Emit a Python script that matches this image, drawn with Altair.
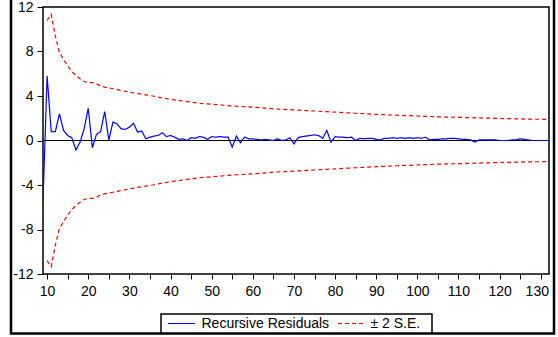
import altair as alt
import pandas as pd

obs = list(range(9, 133))
resid = [
    -5.5, 5.8, 0.8, 0.8, 2.4, 0.9, 0.45, 0.25, -0.85, -0.15,   # 9-18
    1.05, 2.9, -0.65, 0.55, 0.8, 2.6, 0.05, 1.65, 1.5, 1.05,    # 19-28
    1.0, 1.2, 1.55, 0.75, 0.85, 0.15, 0.3, 0.4, 0.45, 0.7,      # 29-38
    0.35, 0.45, 0.3, 0.1, 0.15, 0.0, 0.25, 0.2, 0.35, 0.3,      # 39-48
    0.1, 0.35, 0.3, 0.35, 0.3, 0.3, -0.6, 0.4, -0.2, 0.3,       # 49-58
    0.15, 0.15, 0.1, 0.05, 0.1, 0.05, 0.0, 0.15, 0.0, 0.05,     # 59-68
    0.25, -0.3, 0.25, 0.35, 0.4, 0.45, 0.5, 0.45, 0.2, 0.9,     # 69-78
    -0.15, 0.35, 0.3, 0.3, 0.25, 0.3, 0.0, 0.2, 0.15, 0.2,      # 79-88
    0.2, 0.1, 0.05, 0.2, 0.2, 0.25, 0.2, 0.25, 0.2, 0.25,       # 89-98
    0.2, 0.25, 0.2, 0.3, 0.05, 0.1, 0.1, 0.15, 0.15, 0.2,       # 99-108
    0.2, 0.15, 0.1, 0.1, 0.05, -0.15, 0.05, 0.05, 0.05, 0.05,   # 109-118
    0.05, 0.0, 0.0, 0.0, 0.05, 0.05, 0.15, 0.1, 0.05, 0.0,      # 119-128
    0.0, 0.0, 0.0, 0.0,                                          # 129-132
]

# Two standard error band (upper; lower is its negative)
band_obs = list(range(10, 133))
band = [
    10.8, 11.35, 9.4, 7.9, 7.3, 6.7, 6.2, 5.85, 5.55, 5.3,      # 10-19
    5.2, 5.2, 5.1, 4.9, 4.8, 4.72, 4.65, 4.58, 4.5, 4.43,       # 20-29
    4.36, 4.28, 4.22, 4.16, 4.1, 4.04, 3.98, 3.9, 3.83, 3.77,   # 30-39
    3.7, 3.65, 3.6, 3.55, 3.5, 3.45, 3.4, 3.35, 3.32, 3.29,     # 40-49
    3.26, 3.23, 3.2, 3.17, 3.14, 3.11, 3.08, 3.06, 3.04, 3.02,  # 50-59
    3.0, 2.97, 2.94, 2.91, 2.88, 2.85, 2.83, 2.81, 2.79, 2.77,  # 60-69
    2.75, 2.73, 2.71, 2.69, 2.67, 2.65, 2.63, 2.61, 2.59, 2.57, # 70-79
    2.55, 2.53, 2.51, 2.49, 2.47, 2.45, 2.43, 2.41, 2.39, 2.37, # 80-89
    2.35, 2.33, 2.32, 2.3, 2.29, 2.27, 2.26, 2.24, 2.23, 2.21,  # 90-99
    2.2, 2.18, 2.17, 2.16, 2.14, 2.13, 2.12, 2.11, 2.1, 2.09,   # 100-109
    2.08, 2.07, 2.06, 2.05, 2.04, 2.03, 2.02, 2.01, 2.0, 1.99,  # 110-119
    1.98, 1.97, 1.96, 1.96, 1.95, 1.94, 1.93, 1.93, 1.92, 1.91, # 120-129
    1.91, 1.9, 1.9,                                              # 130-132
]

series_names = ["Recursive Residuals", "± 2 S.E."]
series_colors = ["#0000FF", "#FF0000"]
series_dash = [[1, 0], [4, 3]]
x_ticks = list(range(10, 131, 5))
y_ticks = [-12, -8, -4, 0, 4, 8, 12]

rows = []
for x, v in zip(obs, resid):
    rows.append({"obs": x, "value": v, "series": series_names[0], "part": "res"})
for x, b in zip(band_obs, band):
    rows.append({"obs": x, "value": b, "series": series_names[1], "part": "upper"})
for x, b in zip(band_obs, band):
    rows.append({"obs": x, "value": -b, "series": series_names[1], "part": "lower"})
df = pd.DataFrame(rows)

FONT = "Liberation Sans"

x_scale = alt.Scale(domain=[9, 132], nice=False, zero=False)
y_scale = alt.Scale(domain=[-12, 12], nice=False, zero=False)

lines = alt.Chart(df).mark_line(strokeWidth=1.2, clip=True).encode(
    x=alt.X("obs:Q", scale=x_scale, axis=alt.Axis(
        values=x_ticks, title=None, grid=False, domain=False,
        labelExpr="datum.value % 10 == 0 ? '' + datum.value : ''",
        labelOverlap=False, tickSize=5, tickColor="black",
        labelPadding=5, labelFontSize=14, labelFont=FONT, labelColor="black",
        labelOffset={"condition": {"test": "datum.value == 130", "value": -4}, "value": 0},
    )),
    y=alt.Y("value:Q", scale=y_scale, axis=alt.Axis(
        values=y_ticks, title=None, grid=False, domain=False,
        labelExpr="'' + datum.value",
        tickSize=6, tickColor="black", labelPadding=4,
        labelFontSize=14, labelFont=FONT, labelColor="black",
    )),
    color=alt.Color("series:N", scale=alt.Scale(domain=series_names, range=series_colors), legend=None),
    strokeDash=alt.StrokeDash("series:N", scale=alt.Scale(domain=series_names, range=series_dash), legend=None),
    detail="part:N",
    order="obs:Q",
)

zero = alt.Chart(pd.DataFrame({"z": [0]})).mark_rule(color="black", strokeWidth=1).encode(
    y=alt.Y("z:Q", scale=y_scale)
)

one = pd.DataFrame({"k": [0]})

# Outer frame of the graphic
frame = alt.Chart(one).mark_rect(
    filled=False, stroke="black", strokeWidth=2.5, clip=False
).encode(
    x=alt.value(-32), x2=alt.value(511), y=alt.value(-9), y2=alt.value(326.5)
)

# Legend box at the bottom
leg_box = alt.Chart(one).mark_rect(
    fill="white", stroke="black", strokeWidth=1.5, clip=False
).encode(
    x=alt.value(118), x2=alt.value(389), y=alt.value(307), y2=alt.value(326)
)
leg_sym1 = alt.Chart(one).mark_rule(
    color=series_colors[0], strokeWidth=1.2, strokeDash=series_dash[0], clip=False
).encode(x=alt.value(125), x2=alt.value(152), y=alt.value(316.5))
leg_sym2 = alt.Chart(one).mark_rule(
    color=series_colors[1], strokeWidth=1.2, strokeDash=series_dash[1], clip=False
).encode(x=alt.value(295), x2=alt.value(322), y=alt.value(316.5))
leg_txt1 = alt.Chart(one).mark_text(
    align="left", baseline="middle", font=FONT, fontSize=14, color="black", clip=False
).encode(x=alt.value(158.5), y=alt.value(317), text=alt.value(series_names[0]))
leg_txt2 = alt.Chart(one).mark_text(
    align="left", baseline="middle", font=FONT, fontSize=14, color="black", clip=False
).encode(x=alt.value(327.5), y=alt.value(317), text=alt.value(series_names[1]))

chart = alt.layer(zero, lines, frame, leg_box, leg_sym1, leg_sym2, leg_txt1, leg_txt2).properties(
    width=506, height=267,
    padding={"left": 43, "top": 7, "right": 9, "bottom": 63},
    autosize=alt.AutoSizeParams(type="none"),
    background="white",
).configure_view(
    stroke="black", strokeWidth=1.5
)

chart.save("out.html", embed_options={"renderer": "svg", "actions": False})
